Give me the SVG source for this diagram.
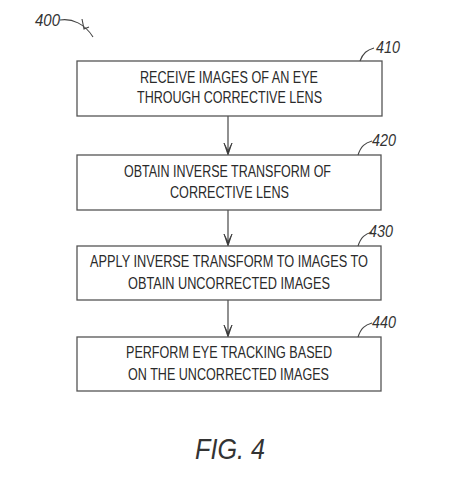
<svg xmlns="http://www.w3.org/2000/svg" width="457" height="498" viewBox="0 0 457 498">
<defs>
<path id="ah" d="M-4,-12 L0,-4 L4,-12 L0,0 Z" fill="#333" stroke="#333" stroke-width="0.8" stroke-linejoin="round"/>
</defs>
<style>
.box{fill:#fff;stroke:#555;stroke-width:1.3}
.t{font-family:"Liberation Sans",Arial,sans-serif;font-size:16.5px;fill:#2a2a2a;text-anchor:middle}
.n{font-family:"Liberation Sans",Arial,sans-serif;font-size:16px;font-style:italic;fill:#333}
.lead{fill:none;stroke:#444;stroke-width:1.1}
.c{stroke:#555;stroke-width:1.3;fill:none}
</style>
<rect width="457" height="498" fill="#fff"/>
<g id="ref400">
<text class="n" x="35" y="26" textLength="25" lengthAdjust="spacingAndGlyphs">400</text>
<path class="lead" d="M60,20 C72,18 85,24 93,37"/>
<path class="lead" d="M82,19 L84,29 L89,27"/>
</g>
<g id="connectors">
<line class="c" x1="228" y1="116" x2="228" y2="150"/>
<use href="#ah" x="228" y="155"/>
<line class="c" x1="228" y1="210" x2="228" y2="241"/>
<use href="#ah" x="228" y="246"/>
<line class="c" x1="228" y1="300" x2="228" y2="332"/>
<use href="#ah" x="228" y="337"/>
</g>
<g id="n410">
<rect class="box" x="77" y="61" width="305" height="55"/>
<text class="t" x="229" y="83" textLength="178" lengthAdjust="spacingAndGlyphs">RECEIVE IMAGES OF AN EYE</text>
<text class="t" x="229.5" y="103" textLength="185" lengthAdjust="spacingAndGlyphs">THROUGH CORRECTIVE LENS</text>
<path class="lead" d="M360,61 C363,53 367,50 374,48"/>
<text class="n" x="376" y="53" textLength="24" lengthAdjust="spacingAndGlyphs">410</text>
</g>
<g id="n420">
<rect class="box" x="77" y="155" width="304" height="55"/>
<text class="t" x="227.5" y="177" textLength="207" lengthAdjust="spacingAndGlyphs">OBTAIN INVERSE TRANSFORM OF</text>
<text class="t" x="229.5" y="198" textLength="119" lengthAdjust="spacingAndGlyphs">CORRECTIVE LENS</text>
<path class="lead" d="M358,155 C361,146 365,143 372,141"/>
<text class="n" x="372" y="146" textLength="24" lengthAdjust="spacingAndGlyphs">420</text>
</g>
<g id="n430">
<rect class="box" x="77" y="246" width="304" height="54"/>
<text class="t" x="229" y="267" textLength="278" lengthAdjust="spacingAndGlyphs">APPLY INVERSE TRANSFORM TO IMAGES TO</text>
<text class="t" x="229" y="289" textLength="202" lengthAdjust="spacingAndGlyphs">OBTAIN UNCORRECTED IMAGES</text>
<path class="lead" d="M358,246 C361,237 365,234 372,232"/>
<text class="n" x="369" y="237" textLength="24" lengthAdjust="spacingAndGlyphs">430</text>
</g>
<g id="n440">
<rect class="box" x="77" y="337" width="304" height="54"/>
<text class="t" x="229" y="358" textLength="206" lengthAdjust="spacingAndGlyphs">PERFORM EYE TRACKING BASED</text>
<text class="t" x="228.5" y="380" textLength="201" lengthAdjust="spacingAndGlyphs">ON THE UNCORRECTED IMAGES</text>
<path class="lead" d="M358,337 C361,328 365,325 372,323"/>
<text class="n" x="372" y="328" textLength="24" lengthAdjust="spacingAndGlyphs">440</text>
</g>
<g id="fig">
<text x="230" y="459" font-family="Liberation Sans, Arial, sans-serif" font-size="30" font-style="italic" fill="#333" text-anchor="middle" textLength="70" lengthAdjust="spacingAndGlyphs">FIG. 4</text>
</g>
</svg>
